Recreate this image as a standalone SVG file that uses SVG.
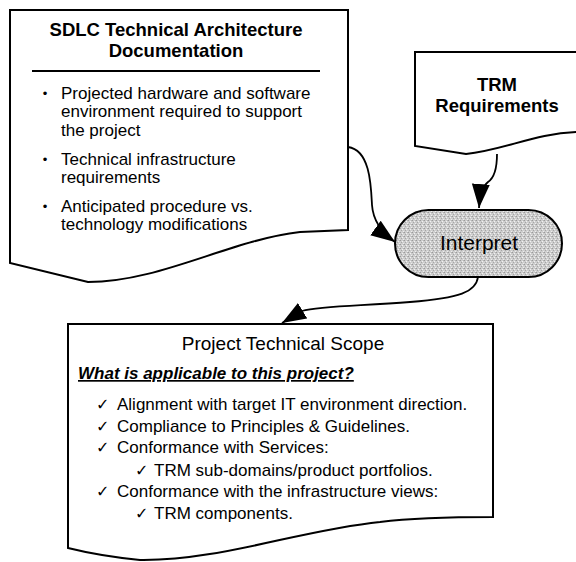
<svg xmlns="http://www.w3.org/2000/svg" width="576" height="562" viewBox="0 0 576 562">
  <style>
    .shape { fill: #ffffff; stroke: #000000; stroke-width: 2; stroke-linejoin: miter; }
    .edge { fill: none; stroke: #000000; stroke-width: 1.8; }
    .t { font-family: "Liberation Sans", Arial, sans-serif; fill: #000000; }
    .hd { font-size: 18.5px; font-weight: bold; text-anchor: middle; }
    .body { font-size: 17px; }
    .chk { font-family: "DejaVu Sans", "Liberation Sans", sans-serif; font-size: 16px; font-weight: bold; fill: #000000; }
  </style>
  <defs>
    <marker id="arrow" markerUnits="userSpaceOnUse" markerWidth="26" markerHeight="20" refX="24" refY="9" orient="auto">
      <path d="M0,0 L24,9 L0,18 Z" fill="#000000"/>
    </marker>
    <!-- stippled grey fill for the process node -->
    <pattern id="stipple" width="4" height="4" patternUnits="userSpaceOnUse">
      <rect width="4" height="4" fill="#cdcdcd"/>
      <rect x="0" y="0" width="1" height="1" fill="#9a9a9a"/>
      <rect x="2" y="1" width="1" height="1" fill="#f2f2f2"/>
      <rect x="1" y="2" width="1" height="1" fill="#a5a5a5"/>
      <rect x="3" y="3" width="1" height="1" fill="#eeeeee"/>
      <rect x="3" y="0" width="1" height="1" fill="#b4b4b4"/>
    </pattern>
  </defs>

  <rect width="576" height="562" fill="#ffffff"/>

  <!-- SDLC document -->
  <g id="sdlc-doc">
    <path class="shape" d="M10,10 L348,10 L348,230 L300,232 C230,240 160,282 88,282 L10,263 Z"/>
    <text class="t hd" x="176" y="36">SDLC Technical Architecture</text>
    <text class="t hd" x="176" y="57">Documentation</text>
    <line x1="32" y1="71" x2="320" y2="71" stroke="#000000" stroke-width="2"/>
    <g class="t body">
      <text x="45" y="98" text-anchor="middle" font-size="13">•</text>
      <text x="61" y="99">Projected hardware and software</text>
      <text x="61" y="117">environment required to support</text>
      <text x="61" y="136">the project</text>
      <text x="45" y="164" text-anchor="middle" font-size="13">•</text>
      <text x="61" y="165">Technical infrastructure</text>
      <text x="61" y="183">requirements</text>
      <text x="45" y="211" text-anchor="middle" font-size="13">•</text>
      <text x="61" y="212">Anticipated procedure vs.</text>
      <text x="61" y="230">technology modifications</text>
    </g>
  </g>

  <!-- TRM requirements document (runs off the right edge) -->
  <g id="trm-doc">
    <path class="shape" d="M578,52 L415,52 L415,146 L466,154 C505,150 535,133 578,132"/>
    <text class="t hd" x="497" y="91">TRM</text>
    <text class="t hd" x="497" y="112">Requirements</text>
  </g>

  <!-- Interpret process -->
  <g id="interpret">
    <rect x="395" y="210" width="167" height="67" rx="33.5" ry="33.5" fill="url(#stipple)" stroke="#000000" stroke-width="2"/>
    <text class="t" x="479" y="250" font-size="21" text-anchor="middle">Interpret</text>
  </g>

  <!-- Project technical scope document -->
  <g id="project-scope">
    <path class="shape" d="M68,324 L493,324 L493,517 C460,517 420,517 380,522 C300,530 220,561 140,560 Q100,556 68,548 Z"/>
    <text class="t" x="283" y="350" font-size="19" text-anchor="middle">Project Technical Scope</text>
    <text class="t" x="78" y="379" font-size="17" font-weight="bold" font-style="italic" text-decoration="underline">What is applicable to this project?</text>
    <g>
      <text class="chk" x="96" y="410">✓</text>
      <text class="t body" x="117" y="410">Alignment with target IT environment direction.</text>
      <text class="chk" x="96" y="432">✓</text>
      <text class="t body" x="117" y="432">Compliance to Principles &amp; Guidelines.</text>
      <text class="chk" x="96" y="453">✓</text>
      <text class="t body" x="117" y="453">Conformance with Services:</text>
      <text class="chk" x="135" y="476">✓</text>
      <text class="t body" x="154" y="476">TRM sub-domains/product portfolios.</text>
      <text class="chk" x="96" y="497">✓</text>
      <text class="t body" x="117" y="497">Conformance with the infrastructure views:</text>
      <text class="chk" x="135" y="519">✓</text>
      <text class="t body" x="154" y="519">TRM components.</text>
    </g>
  </g>

  <!-- connectors -->
  <g id="connectors">
    <path class="edge" d="M348,147 C370,150 371,185 372,205 C373,220 381,232 395,242" marker-end="url(#arrow)"/>
    <path class="edge" d="M497,154 C497,170 494,178 488,182 C483,186 480,195 479,208" marker-end="url(#arrow)"/>
    <path class="edge" d="M478,277 C476,292 460,298 410,302 C360,306 320,306 302,311 L282,323" marker-end="url(#arrow)"/>
  </g>
</svg>
